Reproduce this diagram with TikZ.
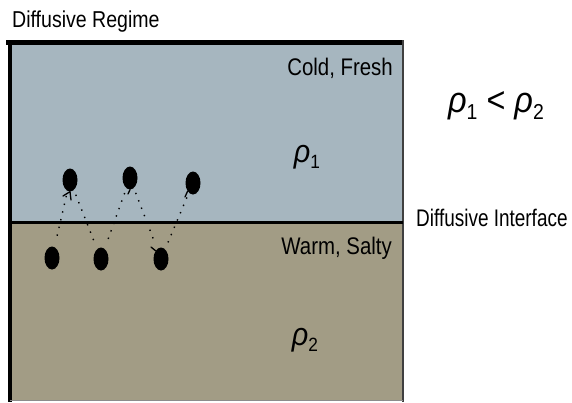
\documentclass[tikz,border=0pt]{standalone}
\usepackage{fontspec}
\setmainfont{Liberation Sans}[FakeStretch=0.85]
\newfontfamily\rhofont{Liberation Sans}[FakeStretch=0.9]
\newfontfamily\narrowfont{Liberation Sans}[FakeStretch=0.79]
\usetikzlibrary{shapes.geometric}
\definecolor{coldwater}{RGB}{166,182,191}
\definecolor{warmwater}{RGB}{162,156,133}
\newcommand{\rhosub}[1]{\textit{ρ}\raisebox{-0.35ex}{\fontsize{0.6em}{1em}\selectfont #1}}
\begin{document}
\begin{tikzpicture}[x=1pt,y=-1pt,
  lbl/.style={inner sep=0pt,font=\fontsize{24}{28}\selectfont},
  blob/.style={ellipse,fill=black,inner sep=0pt,minimum width=15pt,minimum height=23pt},
  leg/.style={line width=1.3pt,line cap=round},
  trail/.style={line width=1.4pt,dash pattern=on 1.4pt off 6.5pt,shorten <=5pt,shorten >=5pt},
  rho/.style={inner sep=0pt}]
\useasboundingbox (0,0) rectangle (572,402);
% water layers
\fill[coldwater] (10,42) rectangle (403,222);
\fill[warmwater] (10,222) rectangle (403,400);
\draw[line width=4.5pt] (6,42.5) -- (404,42.5);
\draw[line width=4pt] (10,40) -- (10,402);
\draw[line width=1.6pt,black!75] (403,40) -- (403,402);
\draw[line width=1pt,black!45] (10,400.5) -- (403,400.5);
\draw[line width=3pt] (10,222.5) coordinate (ifl) -- (403,222.5) coordinate (ifr);
% labels
\node[lbl,anchor=base west,font=\fontsize{23}{26}\selectfont] (title) at (12,27) {Diffusive Regime};
\node[lbl,anchor=base east] (cold) at (393,75) {Cold, Fresh};
\node[lbl,anchor=base east] (warm) at (392,254) {Warm, Salty};
\node[lbl,anchor=base west,font=\fontsize{24}{28}\narrowfont] (iface) at (416,226) {Diffusive Interface};
\node[rho,font=\fontsize{36}{40}\rhofont] (rel) at (496,106) {\rhosub{1} < \rhosub{2}};
\node[rho,font=\fontsize{32}{36}\rhofont] (r1) at (307,157) {\rhosub{1}};
\node[rho,font=\fontsize{32}{36}\rhofont] (r2) at (305,340) {\rhosub{2}};
% parcels above and below the interface
\node[blob] (u1) at (70,180) {};
\node[blob] (u2) at (130,178) {};
\node[blob] (u3) at (193,183) {};
\node[blob] (l1) at (52,258) {};
\node[blob] (l2) at (101,259) {};
\node[blob] (l3) at (161,259) {};
% small wisps trailing off the parcels
\draw[leg] (u1.south) -- (63,196) (u1.south) -- (71,200);
\draw[leg] (u2.south) -- (128,194);
\draw[leg] (u3.south west) -- (185,197);
\draw[leg] (l3.north west) -- (151,247);
% exchange across the interface
\draw[trail] (u1) -- (l1);
\draw[trail] (u1) -- (l2);
\draw[trail] (u2) -- (l2);
\draw[trail] (u2) -- (l3);
\draw[trail] (u3) -- (l3);
\end{tikzpicture}
\end{document}
